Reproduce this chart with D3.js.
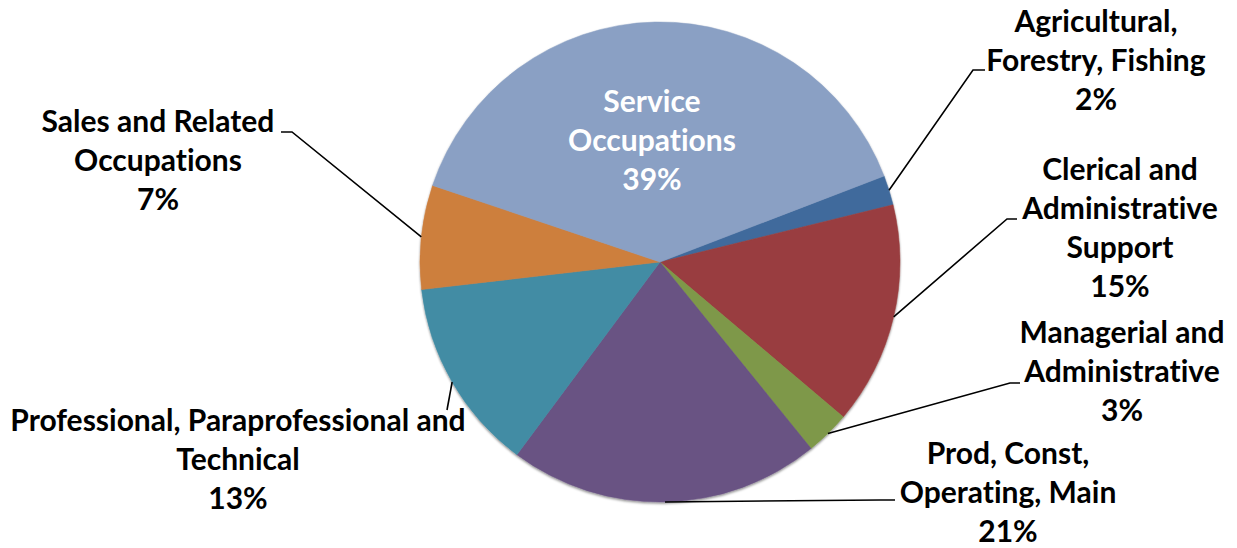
<!DOCTYPE html>
<html>
<head>
<meta charset="utf-8">
<script src="https://cdn.jsdelivr.net/npm/d3@7"></script>
<style>
  html, body { margin: 0; padding: 0; background: #fff; }
  svg { display: block; }
  text { font-family: Lato, "Open Sans", sans-serif; font-weight: 700; font-variant-ligatures: none; }
</style>
</head>
<body>
<svg id="chart" width="1237" height="548"></svg>
<script>
// Employment by occupation group (share of total, %)
const categories = [
  "Agricultural, Forestry, Fishing",
  "Clerical and Administrative Support",
  "Managerial and Administrative",
  "Prod, Const, Operating, Main",
  "Professional, Paraprofessional and Technical",
  "Sales and Related Occupations",
  "Service Occupations"
];
const values = [2, 15, 3, 21, 13, 7, 39];

// Wrapped label lines per category (the percentage line is appended)
const labelLines = [
  ["Agricultural,", "Forestry, Fishing"],
  ["Clerical and", "Administrative", "Support"],
  ["Managerial and", "Administrative"],
  ["Prod, Const,", "Operating, Main"],
  ["Professional, Paraprofessional and", "Technical"],
  ["Sales and Related", "Occupations"],
  ["Service", "Occupations"]
];

const colors = ["#416a9c", "#993e3f", "#7e9848", "#695283", "#428ca4", "#cd7f3e", "#8aa0c4"];

// Layout: label block centre/first baseline, leader elbow and tick end
const layout = [
  { x: 1096, y: 32,  elbow: [973, 70],  end: [985, 70] },
  { x: 1120, y: 180, elbow: [1007, 219], end: [1017, 219] },
  { x: 1122, y: 343, elbow: [1010, 383], end: [1020, 383] },
  { x: 1008, y: 464, elbow: [880, 500], end: [895, 500] },
  { x: 238,  y: 431, elbow: null,       end: [447, 410] },
  { x: 158,  y: 132, elbow: [292, 132], end: [281, 132] },
  { x: 652,  y: 112, inside: true }
];

const cx = 660, cy = 262, R = 240, lineGap = 39, fontSize = 30;
const startAngle = 69 * Math.PI / 180;

const svg = d3.select("#chart");
const defs = svg.append("defs");
const shadow = defs.append("filter").attr("id", "rim")
  .attr("x", "-10%").attr("y", "-10%").attr("width", "120%").attr("height", "120%");
shadow.append("feDropShadow").attr("dx", 0).attr("dy", 1.5)
  .attr("stdDeviation", 1).attr("flood-color", "#000").attr("flood-opacity", 0.45);

const pie = d3.pie().sort(null).value(d => d)
  .startAngle(startAngle).endAngle(startAngle + 2 * Math.PI);
const arcs = pie(values);
const arc = d3.arc().innerRadius(0).outerRadius(R);

const g = svg.append("g").attr("transform", `translate(${cx},${cy})`);
g.append("g").attr("filter", "url(#rim)")
  .selectAll("path").data(arcs).join("path")
  .attr("d", arc)
  .attr("fill", (d, i) => colors[i])
  .attr("stroke", (d, i) => colors[i])
  .attr("stroke-width", 0.5);

// Leader lines from the slice mid-angle on the rim to each label
const leaders = svg.append("g").attr("fill", "none").attr("stroke", "#000").attr("stroke-width", 1.6);
arcs.forEach((d, i) => {
  const L = layout[i];
  if (L.inside) return;
  const a = (d.startAngle + d.endAngle) / 2;
  const p0 = [cx + R * Math.sin(a), cy - R * Math.cos(a)];
  const pts = [p0];
  if (L.elbow) pts.push(L.elbow);
  pts.push(L.end);
  leaders.append("path").attr("d", d3.line()(pts));
});

// Labels
const labels = svg.append("g").attr("text-anchor", "middle").attr("font-size", fontSize);
arcs.forEach((d, i) => {
  const L = layout[i];
  const lines = labelLines[i].concat([Math.round(values[i]) + "%"]);
  const t = labels.append("text")
    .attr("fill", L.inside ? "#fff" : "#000");
  lines.forEach((s, k) => {
    t.append("tspan").attr("x", L.x).attr("y", L.y + k * lineGap).text(s);
  });
});
</script>
</body>
</html>
